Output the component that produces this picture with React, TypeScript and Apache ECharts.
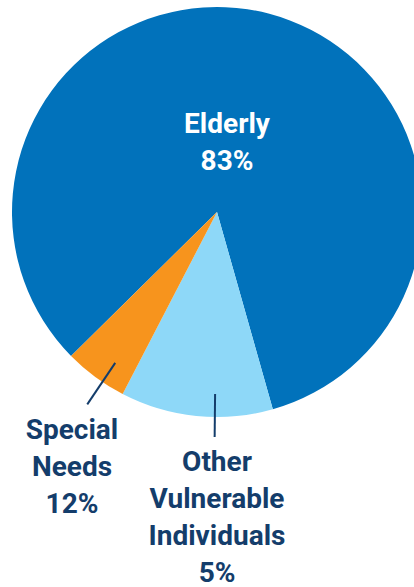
import React, { useEffect, useRef } from "react";
import * as echarts from "echarts";

const categories = ["Elderly", "Other Vulnerable Individuals", "Special Needs"];
const sliceValues = [83, 12, 5];
const labelTexts = ["Elderly\n83%", "Other\nVulnerable\nIndividuals\n5%", "Special\nNeeds\n12%"];
const sliceColors = ["#0172BB", "#8ED8F8", "#F7941D"];

const CX = 217;
const CY = 212;
const R = 205;
const NAVY = "#143D6B";
const FONT = "Roboto, 'Liberation Sans Narrow', 'DejaVu Sans Condensed', sans-serif";

// label anchor positions (layout only)
const labelPos = [
  { x: 227, y: 142 },
  { x: 217, y: 517 },
  { x: 72, y: 466 },
];
// leader line: angle (deg, screen) and inner/outer radius
const leaders = [
  { a: 90.6, r1: 182, r2: 225 },
  { a: 124, r1: 182, r2: 232 },
];

const polar = (a: number, r: number) => [
  CX + r * Math.cos((a * Math.PI) / 180),
  CY + r * Math.sin((a * Math.PI) / 180),
];

export default function App() {
  const ref = useRef<HTMLDivElement>(null);
  useEffect(() => {
    document.body.style.margin = "0";
    const chart = echarts.init(ref.current!, null, { renderer: "svg" });
    chart.setOption({
      animation: false,
      graphic: leaders.map((l) => {
        const [x1, y1] = polar(l.a, l.r1);
        const [x2, y2] = polar(l.a, l.r2);
        return {
          type: "line",
          z: 100,
          silent: true,
          shape: { x1, y1, x2, y2 },
          style: { stroke: NAVY, lineWidth: 2 },
        };
      }),
      series: [
        {
          type: "pie",
          center: [CX, CY],
          radius: R,
          startAngle: 224.6,
          clockwise: true,
          silent: true,
          avoidLabelOverlap: false,
          emphasis: { disabled: true },
          labelLine: { show: false },
          data: categories.map((name, i) => ({
            name,
            value: sliceValues[i],
            itemStyle: { color: sliceColors[i] },
            label: {
              show: true,
              formatter: labelTexts[i],
              color: i === 0 ? "#ffffff" : NAVY,
              fontFamily: FONT,
              fontWeight: "bold",
              fontSize: 28,
              lineHeight: 37,
              align: "center",
              overflow: "none",
              position: i === 0 ? "inside" : "outside",
            },
          })),
          labelLayout: (params: any) => {
            const p = labelPos[params.dataIndex];
            return { x: p.x, y: p.y, align: "center", verticalAlign: "middle" };
          },
        },
      ],
    });
    return () => chart.dispose();
  }, []);
  return <div ref={ref} style={{ width: 414, height: 587 }} />;
}
